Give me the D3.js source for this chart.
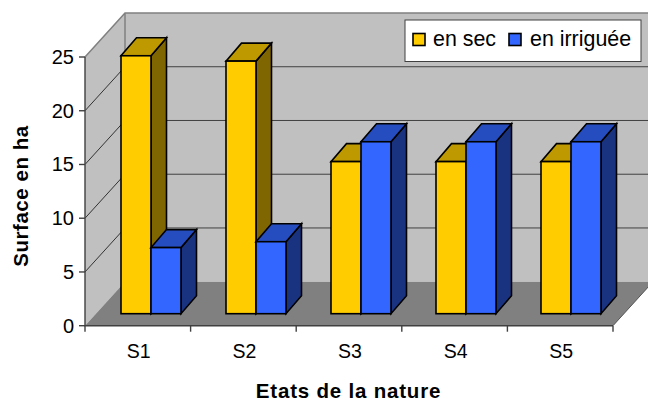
<!DOCTYPE html>
<html><head><meta charset="utf-8">
<script src="https://cdn.jsdelivr.net/npm/d3@7"></script>
<style>html,body{margin:0;padding:0;background:#fff;overflow:hidden}svg{display:block}text{font-family:"Liberation Sans",Arial,sans-serif;fill:#000}</style>
</head><body><svg id="c" width="648" height="401"></svg>
<script>
const categories=["S1","S2","S3","S4","S5"];
const enSec=[24,23.5,14.15,14.15,14.15];
const enIrriguee=[6.15,6.7,16,16,16];
const seriesNames=["en sec","en irriguée"];
const yTicks=[0,5,10,15,20,25];
const xTitle="Etats de la nature";
const yTitle="Surface en ha";

const svg=d3.select("#c");
const L=85,R=613,Y0=325.7,Y25=57,DX=40,DY=-44;
const x=d3.scaleBand().domain(categories).range([L,R]);
const xBar=d3.scalePoint().domain(categories).range([121,541]);
const y=d3.scaleLinear().domain([0,25]).range([Y0,Y25]);
const pts=a=>a.map(p=>p.join(",")).join(" ");
const wall="#c0c0c0",grid="#404040",edge="#808080";

svg.append("polygon").attr("points",pts([[L,Y0],[L,Y25],[L+DX,Y25+DY],[L+DX,Y0+DY]])).attr("fill",wall);
svg.append("rect").attr("x",L+DX).attr("y",Y25+DY).attr("width",R-L).attr("height",Y0-Y25).attr("fill",wall);
svg.append("polygon").attr("points",pts([[L,Y0],[R,Y0],[R+DX,Y0+DY],[L+DX,Y0+DY]])).attr("fill","#808080");
svg.append("path").attr("d",`M${L},${Y25}L${L+DX},${Y25+DY}H${R+DX}M${L+DX},${Y25+DY}V${Y0+DY}`).attr("fill","none").attr("stroke",edge).attr("stroke-width",1.5);
svg.append("path").attr("d",`M${R},${Y0}L${R+DX},${Y0+DY}`).attr("fill","none").attr("stroke","#555").attr("stroke-width",1);

yTicks.filter(t=>t>0&&t<25).forEach(t=>{
  svg.append("path").attr("d",`M${L},${y(t)}L${L+DX},${y(t)+DY}`).attr("fill","none").attr("stroke","#222").attr("stroke-width",.9);
  svg.append("path").attr("d",`M${L+DX},${y(t)+DY}H${R+DX}`).attr("fill","none").attr("stroke",grid).attr("stroke-width",1);
});

const dz=12, dw=15.5, dh=-18, barW=30;
const bar=(cat,i,v,cols)=>{
  const x0=xBar(cat)+i*barW;
  const yb=y(0)-dz, yt=y(v)-dz;
  const g=svg.append("g").attr("stroke","#000").attr("stroke-width",1.6);
  g.append("polygon").attr("points",pts([[x0+barW,yb],[x0+barW,yt],[x0+barW+dw,yt+dh],[x0+barW+dw,yb+dh]])).attr("fill",cols[2]);
  g.append("polygon").attr("points",pts([[x0,yt],[x0+barW,yt],[x0+barW+dw,yt+dh],[x0+dw,yt+dh]])).attr("fill",cols[1]);
  g.append("rect").attr("x",x0).attr("y",yt).attr("width",barW).attr("height",yb-yt).attr("fill",cols[0]);
};
const yellow=["#ffcc00","#bf9900","#806600"],blue=["#3366ff","#264dbf","#193380"];
categories.forEach((c,k)=>{bar(c,0,enSec[k],yellow);bar(c,1,enIrriguee[k],blue);});

const axis=svg.append("g").attr("stroke","#404040").attr("stroke-width",1.4);
axis.append("path").attr("d",`M${L},${Y25}V${Y0}H${R}`).attr("fill","none");
yTicks.forEach(t=>axis.append("line").attr("x1",L-6).attr("x2",L).attr("y1",y(t)).attr("y2",y(t)));
categories.concat(["end"]).forEach(c=>{const px=c==="end"?R:x(c);axis.append("line").attr("x1",px).attr("x2",px).attr("y1",Y0).attr("y2",Y0+6);});

yTicks.forEach(t=>svg.append("text").attr("x",L-11).attr("y",y(t)+7).attr("text-anchor","end").attr("font-size",20).text(t));
categories.forEach(c=>svg.append("text").attr("x",x(c)+x.bandwidth()/2+1).attr("y",357.5).attr("text-anchor","middle").attr("font-size",19.5).text(c));

svg.append("text").attr("x",348.5).attr("y",398).attr("text-anchor","middle").attr("font-size",20.5).attr("font-weight","bold").attr("letter-spacing",.8).text(xTitle);
svg.append("text").attr("transform","translate(28,196) rotate(-90)").attr("text-anchor","middle").attr("font-size",20.5).attr("font-weight","bold").attr("letter-spacing",.55).text(yTitle);

const leg=svg.append("g");
leg.append("rect").attr("x",405).attr("y",20).attr("width",236).attr("height",41.5).attr("fill","#fff").attr("stroke","#404040").attr("stroke-width",1);
[[413,yellow[0],433],[509,blue[0],530]].forEach((d,i)=>{
  leg.append("rect").attr("x",d[0]).attr("y",33.5).attr("width",12).attr("height",12).attr("fill",d[1]).attr("stroke","#000").attr("stroke-width",1.6);
  leg.append("text").attr("x",d[2]).attr("y",46).attr("font-size",21.4).text(seriesNames[i]);
});
</script></body></html>
